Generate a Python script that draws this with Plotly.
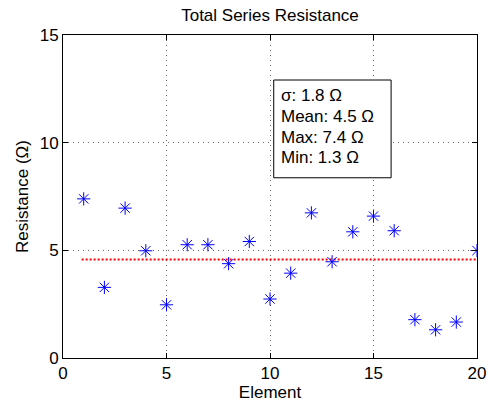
import plotly.graph_objects as go

elements = list(range(1, 21))
resistance = [7.39, 3.28, 6.96, 4.98, 2.47, 5.26, 5.26, 4.38, 5.41, 2.74,
              3.94, 6.74, 4.47, 5.86, 6.59, 5.91, 1.78, 1.31, 1.67, 4.99]
mean_val = 4.57
stats_text = ["σ: 1.8 Ω", "Mean: 4.5 Ω", "Max: 7.4 Ω", "Min: 1.3 Ω"]
stats_rows_y = [12.17, 11.21, 10.25, 9.30]

FONT = "Arial, Liberation Sans, sans-serif"
FS = 17

fig = go.Figure()
fig.add_trace(go.Scatter(
    x=[elements[0] - 0.1, elements[-1]], y=[mean_val, mean_val], mode="lines",
    line=dict(color="red", width=2, dash="2px,2px"), showlegend=False))
fig.add_trace(go.Scatter(
    x=elements, y=resistance, mode="markers",
    marker=dict(symbol="asterisk-open", size=11, color="blue",
                line=dict(color="blue", width=1)),
    showlegend=False))

# stats box
fig.add_shape(type="rect", xref="x", yref="y", x0=10.18, x1=15.85, y0=8.37, y1=12.91,
              line=dict(color="black", width=1), fillcolor="white", layer="above")
for txt, yy in zip(stats_text, stats_rows_y):
    fig.add_annotation(x=10.45, y=yy, xref="x", yref="y", xanchor="left", yanchor="middle",
                       text=txt, showarrow=False,
                       font=dict(family=FONT, size=FS, color="black"))

axis_common = dict(
    showline=True, linecolor="black", linewidth=1, mirror="ticks",
    ticks="inside", ticklen=5, tickcolor="black", automargin=False,
    showgrid=True, gridcolor="#666666", griddash="1px,4px", gridwidth=1,
    zeroline=False, tickfont=dict(family=FONT, size=FS, color="black"),
)

fig.update_layout(
    width=488, height=403,
    margin=dict(l=63, r=11, t=35, b=45, autoexpand=False),
    paper_bgcolor="white", plot_bgcolor="white",
    title=dict(text="Total Series Resistance", x=0.5, xanchor="center",
               xref="paper", y=1 - 15 / 403, yanchor="middle",
               font=dict(family=FONT, size=FS, color="black"), automargin=False),
    xaxis=dict(range=[0, 20], tickvals=[0, 5, 10, 15, 20],
               title=dict(text="Element", standoff=0,
                          font=dict(family=FONT, size=FS, color="black")),
               **axis_common),
    yaxis=dict(range=[0, 15], tickvals=[0, 5, 10, 15],
               title=dict(text="Resistance (Ω)", standoff=6,
                          font=dict(family=FONT, size=FS, color="black")),
               **axis_common),
)

fig.write_html("out.html")
